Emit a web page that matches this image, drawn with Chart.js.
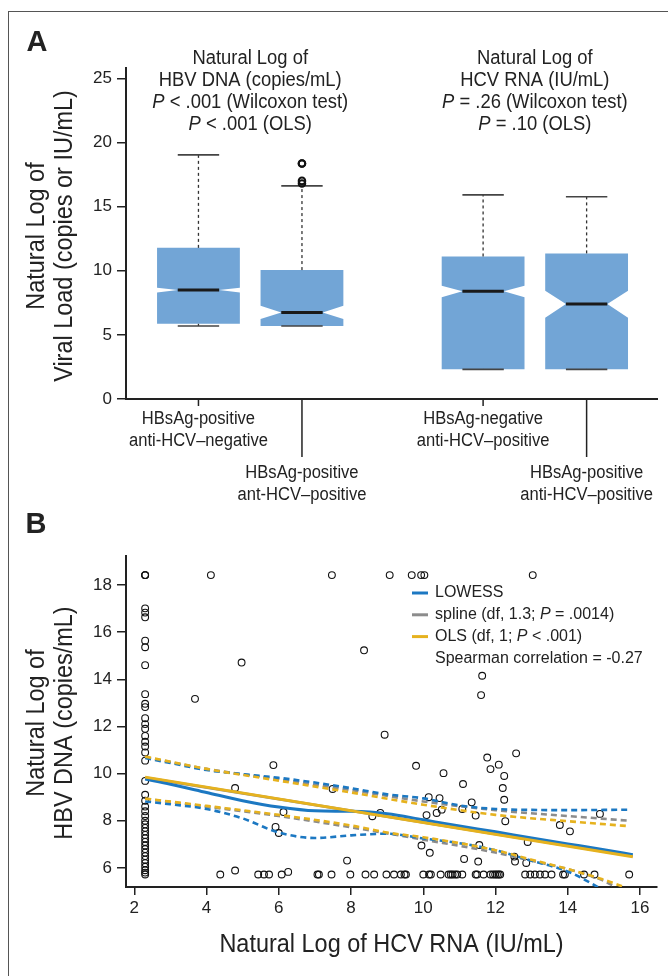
<!DOCTYPE html>
<html>
<head>
<meta charset="utf-8">
<script src="https://cdn.jsdelivr.net/npm/chart.js@4.4.1/dist/chart.umd.min.js"></script>
<style>
  body { margin: 0; background: #fff; width: 668px; height: 976px; overflow: hidden; position: relative; }
  #frame { position: absolute; left: 8px; top: 11px; width: 700px; height: 1000px; border-top: 1.5px solid #555; border-left: 1.5px solid #555; }
  canvas { position: absolute; left: 0; }
  #panelA { top: 0; }
  #panelB { top: 510px; }
</style>
</head>
<body>
<div id="frame"></div>
<canvas id="panelA" width="668" height="510"></canvas>
<canvas id="panelB" width="668" height="466"></canvas>
<script>
// ---- panel A: notched boxplots ----
const groupLabels = [
  ["HBsAg-positive", "anti-HCV\u2013negative"],
  ["HBsAg-positive", "ant-HCV\u2013positive"],
  ["HBsAg-negative", "anti-HCV\u2013positive"],
  ["HBsAg-positive", "anti-HCV\u2013positive"]
];
const groupPos = [1, 2, 3.75, 4.75];
const boxQ1 = [5.86, 5.69, 2.31, 2.31];
const boxMed = [8.49, 6.75, 8.39, 7.40];
const boxQ3 = [11.78, 10.05, 11.11, 11.35];
const notchLo = [8.31, 6.23, 7.94, 6.33];
const notchHi = [8.67, 7.27, 8.83, 8.44];
const whiskLo = [5.69, 5.69, 2.31, 2.31];
const whiskHi = [19.03, 16.61, 15.91, 15.76];
const outlierGroup = [1, 1, 1, 1];
const outlierVal = [18.36, 18.36, 17.0, 16.8];
const yTicksA = [0, 5, 10, 15, 20, 25];

const titleHBV = [[["Natural Log of"]], [["HBV DNA (copies/mL)"]],
  [["P", true], [" < .001 (Wilcoxon test)"]], [["P", true], [" < .001 (OLS)"]]];
const titleHCV = [[["Natural Log of"]], [["HCV RNA (IU/mL)"]],
  [["P", true], [" = .26 (Wilcoxon test)"]], [["P", true], [" = .10 (OLS)"]]];

// ---- panel B: scatter + smoothers ----
const hcvLimit = 2.3;      // column of values at the HCV lower limit
const limitColHbv = [18.42, 18.42, 18.42, 17.01, 16.83, 16.63, 15.64, 15.36, 14.6, 13.37, 12.96, 12.82,
  12.35, 12.1, 11.9, 11.6, 11.35, 11.15, 10.9, 10.55, 9.69, 9.1, 8.85, 8.6, 8.4, 8.2, 8.0, 7.85, 7.7,
  7.55, 7.4, 7.25, 7.1, 6.95, 6.8, 6.65, 6.5, 6.35, 6.2, 6.05, 5.9, 5.8, 5.72];
const hbvFloor = 5.72;     // row of values at the HBV lower limit
const floorRowHcv = [4.38, 5.43, 5.59, 5.73, 6.08, 7.07, 7.11, 7.46, 7.98, 8.40, 8.64, 8.98, 9.19, 9.38,
  9.48, 9.52, 10.0, 10.16, 10.21, 10.48, 10.7, 10.76, 10.81, 10.88, 10.94, 11.08, 11.45, 11.49, 11.67,
  11.86, 11.93, 11.99, 12.04, 12.09, 12.13, 12.82, 12.96, 13.09, 13.23, 13.37, 13.55, 13.87, 13.92,
  14.45, 14.74, 15.7];
const otherHcv = [4.12, 7.47, 9.07, 9.68, 9.94, 10.03, 13.03, 3.68, 4.97, 4.79, 5.85, 7.49, 8.36, 8.93,
  6.13, 5.91, 6.0, 8.59, 8.81, 7.89, 4.79, 6.26, 11.63, 11.6, 12.57, 9.8, 11.77, 11.86, 12.09, 10.56,
  12.24, 11.1, 12.2, 10.15, 10.45, 12.24, 11.34, 10.37, 10.51, 11.08, 11.45, 10.09, 12.27, 14.89,
  13.78, 14.06, 12.89, 9.95, 10.18, 11.55, 11.13, 11.52, 12.52, 12.54, 12.85];
const otherHbv = [18.42, 18.42, 18.42, 18.42, 18.42, 18.42, 18.42, 13.17, 14.71, 9.39, 10.36, 9.35, 15.23, 11.65,
  8.37, 7.74, 7.48, 8.19, 8.33, 6.31, 5.89, 5.83, 14.15, 13.33, 10.86, 10.33, 10.68, 10.19, 10.38, 10.02,
  9.9, 9.56, 9.39, 9.0, 8.96, 8.89, 8.78, 8.33, 8.47, 8.5, 8.22, 8.24, 7.98, 8.29,
  7.82, 7.55, 7.1, 6.95, 6.64, 6.97, 6.38, 6.27, 6.48, 6.27, 6.21];

const lowessX = [2.3, 3, 4, 5, 6, 7, 8, 9, 10, 11, 12, 13, 14, 15, 15.8];
const lowessY = [9.77, 9.55, 9.2, 8.85, 8.58, 8.42, 8.4, 8.3, 8.04, 7.78, 7.53, 7.27, 7.02, 6.77, 6.56];
const lowessUpX = [2.3, 3, 4, 5, 6, 7, 8, 9, 10, 11, 12, 13, 14, 15, 15.7];
const lowessUpY = [10.66, 10.45, 10.15, 9.98, 9.82, 9.62, 9.38, 9.12, 8.95, 8.65, 8.5, 8.46, 8.45, 8.46, 8.47];
const lowessLoX = [2.3, 3, 4, 5, 6, 7, 8, 9, 10, 11, 12, 13, 14, 15];
const lowessLoY = [8.82, 8.7, 8.5, 8.1, 7.5, 7.27, 7.38, 7.45, 7.25, 7.05, 6.75, 6.3, 5.85, 5.05];
const olsX = [2.3, 15.8];
const olsY = [9.85, 6.47];
const olsUpX = [2.3, 4, 6, 8, 10, 12, 14, 15.7];
const olsUpY = [10.72, 10.2, 9.7, 9.2, 8.68, 8.25, 7.98, 7.77];
const olsLoX = [2.3, 4, 6, 8, 9, 10, 11, 12, 13, 14, 15, 15.5];
const olsLoY = [8.94, 8.63, 8.25, 7.8, 7.5, 7.3, 7.05, 6.75, 6.35, 5.95, 5.5, 5.22];
const splineX = [2.3, 15.8];
const splineY = [9.83, 6.5];
const splineUpX = [2.3, 4, 6, 8, 10, 12, 14, 15.7];
const splineUpY = [10.7, 10.2, 9.75, 9.3, 8.82, 8.45, 8.2, 8.0];
const splineLoX = [2.3, 4, 6, 8, 10, 12, 13, 14, 15, 15.3];
const splineLoY = [8.93, 8.6, 8.2, 7.72, 7.2, 6.65, 6.3, 5.95, 5.45, 5.2];

const xTicksB = [2, 4, 6, 8, 10, 12, 14, 16];
const yTicksB = [6, 8, 10, 12, 14, 16, 18];

const legendItems = [
  { color: "#1c78c2", segs: [["LOWESS"]] },
  { color: "#8c8c8c", segs: [["spline (df, 1.3; "], ["P", true], [" = .0014)"]] },
  { color: "#e6b21e", segs: [["OLS (df, 1; "], ["P", true], [" < .001)"]] },
  { color: null, segs: [["Spearman correlation = -0.27"]] }
];

const SANS = '"Liberation Sans", Arimo, Arial, "DejaVu Sans", sans-serif';
const INK = "#222";
const NARROW = 0.92;

// draw one line of text made of segments [text, italic?]
function drawSegs(ctx, segs, x, y, size, opt = {}) {
  const sx = opt.sx || 1;
  ctx.save();
  ctx.translate(x, y);
  if (opt.rot) ctx.rotate(opt.rot);
  ctx.scale(sx, 1);
  ctx.fillStyle = opt.color || INK;
  ctx.textBaseline = "middle";
  ctx.textAlign = "left";
  const fonts = segs.map(s => (s[1] ? "italic " : "") + (opt.bold ? "bold " : "") + size + "px " + SANS);
  const widths = segs.map((s, i) => { ctx.font = fonts[i]; return ctx.measureText(s[0]).width; });
  const total = widths.reduce((a, b) => a + b, 0);
  let cur = opt.align === "left" ? 0 : -total / 2;
  segs.forEach((s, i) => { ctx.font = fonts[i]; ctx.fillText(s[0], cur, 0); cur += widths[i]; });
  ctx.restore();
}

function line(ctx, x1, y1, x2, y2) {
  ctx.beginPath(); ctx.moveTo(x1, y1); ctx.lineTo(x2, y2); ctx.stroke();
}

const boxPlugin = {
  id: "notchedBoxes",
  beforeDatasetsDraw(chart) {
    const { ctx, scales: { x, y } } = chart;
    groupPos.forEach((p, i) => {
      const cx = x.getPixelForValue(p);
      const hw = x.getPixelForValue(p + 0.4) - cx;
      const L = cx - hw, R = cx + hw;
      const q1 = y.getPixelForValue(boxQ1[i]), q3 = y.getPixelForValue(boxQ3[i]);
      const md = y.getPixelForValue(boxMed[i]);
      const nl = y.getPixelForValue(notchLo[i]), nh = y.getPixelForValue(notchHi[i]);
      const wl = y.getPixelForValue(whiskLo[i]), wh = y.getPixelForValue(whiskHi[i]);
      ctx.save();
      ctx.fillStyle = "#72a5d6";
      ctx.beginPath();
      ctx.moveTo(L, q1); ctx.lineTo(L, nl); ctx.lineTo(L + hw / 2, md); ctx.lineTo(L, nh); ctx.lineTo(L, q3);
      ctx.lineTo(R, q3); ctx.lineTo(R, nh); ctx.lineTo(R - hw / 2, md); ctx.lineTo(R, nl); ctx.lineTo(R, q1);
      ctx.closePath();
      ctx.fill();
      ctx.strokeStyle = "#333";
      ctx.lineWidth = 1.3;
      ctx.setLineDash([3, 3]);
      line(ctx, cx, q3, cx, wh);
      line(ctx, cx, q1, cx, wl);
      ctx.setLineDash([]);
      ctx.strokeStyle = "#444";
      ctx.lineWidth = 1.6;
      line(ctx, cx - hw / 2, wh, cx + hw / 2, wh);
      line(ctx, cx - hw / 2, wl, cx + hw / 2, wl);
      ctx.strokeStyle = "#1a1a1a";
      ctx.lineWidth = 3;
      line(ctx, cx - hw / 2, md, cx + hw / 2, md);
      ctx.restore();
    });
  },
  afterDraw(chart) {
    const { ctx, scales: { x }, chartArea } = chart;
    const base = chartArea.bottom;
    ctx.save();
    ctx.strokeStyle = INK;
    ctx.lineWidth = 1.5;
    groupPos.forEach((p, i) => {
      const px = x.getPixelForValue(p);
      const low = i % 2 === 1;
      line(ctx, px, base, px, base + (low ? 58 : 7));
      const ly = base + (low ? 74 : 20);
      groupLabels[i].forEach((t, k) => drawSegs(ctx, [[t]], px, ly + k * 22, 18, { sx: NARROW }));
    });
    // group titles
    const mid1 = (x.getPixelForValue(groupPos[0]) + x.getPixelForValue(groupPos[1])) / 2;
    const mid2 = (x.getPixelForValue(groupPos[2]) + x.getPixelForValue(groupPos[3])) / 2;
    titleHBV.forEach((segs, k) => drawSegs(ctx, segs, mid1, 58 + k * 22.3, 20, { sx: NARROW }));
    titleHCV.forEach((segs, k) => drawSegs(ctx, segs, mid2, 58 + k * 22.3, 20, { sx: NARROW }));
    // y-axis title
    drawSegs(ctx, [["Natural Log of"]], 37, 236, 25.5, { sx: NARROW, rot: -Math.PI / 2 });
    drawSegs(ctx, [["Viral Load (copies or IU/mL)"]], 65, 236, 25.5, { sx: NARROW, rot: -Math.PI / 2 });
    drawSegs(ctx, [["A"]], 37, 43, 29, { bold: true });
    ctx.restore();
  }
};

const panelBText = {
  id: "panelBText",
  afterDraw(chart) {
    const { ctx, chartArea } = chart;
    ctx.save();
    drawSegs(ctx, [["B"]], 36, 15, 29, { bold: true });
    drawSegs(ctx, [["Natural Log of"]], 37, 213, 25.5, { sx: NARROW, rot: -Math.PI / 2 });
    drawSegs(ctx, [["HBV DNA (copies/mL)"]], 65, 213, 25.5, { sx: NARROW, rot: -Math.PI / 2 });
    drawSegs(ctx, [["Natural Log of HCV RNA (IU/mL)"]], (chartArea.left + chartArea.right) / 2, 435, 25.5, { sx: NARROW });
    legendItems.forEach((it, k) => {
      const ly = 83 + k * 21.8;
      if (it.color) {
        ctx.strokeStyle = it.color;
        ctx.lineWidth = 3;
        line(ctx, 412, ly, 428, ly);
      }
      drawSegs(ctx, it.segs, 435, ly, 16, { align: "left" });
    });
    ctx.restore();
  }
};

const axisStyle = {
  border: { color: INK, width: 2 },
  grid: { drawOnChartArea: false, drawTicks: true, tickLength: 9, color: INK, lineWidth: 1.5 },
  ticks: { color: INK, font: { family: SANS, size: 17 }, padding: 5 }
};

new Chart(document.getElementById("panelA"), {
  type: "scatter",
  data: {
    datasets: [{
      data: outlierGroup.map((g, i) => ({ x: groupPos[g], y: outlierVal[i] })),
      pointRadius: 3.3, borderWidth: 2, borderColor: "#111", backgroundColor: "rgba(0,0,0,0)"
    }]
  },
  options: {
    responsive: false, animation: false,
    layout: { padding: { top: 68, right: 11, left: 0, bottom: 0 } },
    plugins: { legend: { display: false }, tooltip: { enabled: false } },
    scales: {
      x: {
        type: "linear", min: 0.3, max: 5.43,
        border: { color: INK, width: 2 }, grid: { display: false }, ticks: { display: false },
        afterFit: s => { s.height = 111; }
      },
      y: {
        min: 0, max: 25.8, ...axisStyle,
        afterBuildTicks: s => { s.ticks = yTicksA.map(v => ({ value: v })); },
        afterFit: s => { s.width = 126; }
      }
    }
  },
  plugins: [boxPlugin]
});

const pairs = (xs, ys) => xs.map((x, i) => ({ x, y: ys[i] }));
const fitLine = (xs, ys, color, dashed) => ({
  data: pairs(xs, ys), showLine: true, pointRadius: 0, borderColor: color, borderWidth: dashed ? 2.6 : 3,
  borderDash: dashed ? [6, 4] : [], cubicInterpolationMode: "monotone", fill: false
});

const scatterPts = [
  ...limitColHbv.map(y => ({ x: hcvLimit, y })),
  ...floorRowHcv.map(x => ({ x, y: hbvFloor })),
  ...pairs(otherHcv, otherHbv)
];

new Chart(document.getElementById("panelB"), {
  type: "scatter",
  data: {
    datasets: [
      fitLine(olsX, olsY, "#e6b21e", false),
      fitLine(olsUpX, olsUpY, "#e6b21e", true),
      fitLine(olsLoX, olsLoY, "#e6b21e", true),
      fitLine(lowessX, lowessY, "#1c78c2", false),
      fitLine(lowessUpX, lowessUpY, "#1c78c2", true),
      fitLine(lowessLoX, lowessLoY, "#1c78c2", true),
      fitLine(splineX, splineY, "#8c8c8c", false),
      fitLine(splineUpX, splineUpY, "#8c8c8c", true),
      fitLine(splineLoX, splineLoY, "#8c8c8c", true),
      { data: scatterPts, pointRadius: 3.4, borderWidth: 1.1, borderColor: "#111", backgroundColor: "rgba(0,0,0,0)" }
    ]
  },
  options: {
    responsive: false, animation: false,
    layout: { padding: { top: 46, right: 11, left: 0, bottom: 0 } },
    plugins: { legend: { display: false }, tooltip: { enabled: false } },
    scales: {
      x: {
        type: "linear", min: 1.77, max: 16.47, ...axisStyle,
        grid: { ...axisStyle.grid, tickLength: 8 },
        ticks: { ...axisStyle.ticks, padding: 3 },
        afterBuildTicks: s => { s.ticks = xTicksB.map(v => ({ value: v })); },
        afterFit: s => { s.height = 89; }
      },
      y: {
        min: 5.19, max: 19.23, ...axisStyle,
        afterBuildTicks: s => { s.ticks = yTicksB.map(v => ({ value: v })); },
        afterFit: s => { s.width = 126; }
      }
    }
  },
  plugins: [panelBText]
});
</script>
</body>
</html>
